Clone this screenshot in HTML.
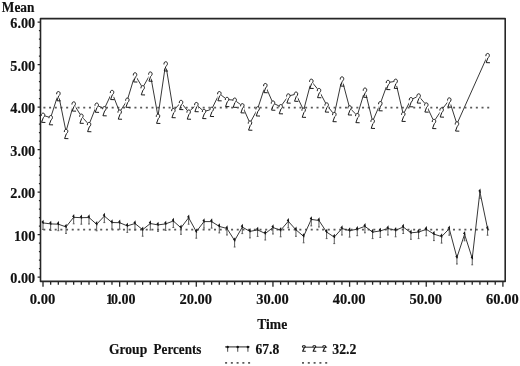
<!DOCTYPE html><html><head><meta charset="utf-8"><style>html,body{margin:0;padding:0;background:#fff;}svg{display:block;filter:grayscale(100%) blur(0.3px);}text{font-family:"Liberation Serif",serif;font-weight:bold;fill:#111;stroke:#111;stroke-width:0.15px;}</style></head><body>
<svg width="520" height="366" viewBox="0 0 520 366">
<rect width="520" height="366" fill="#fff"/>
<defs>
<g id="g2"><rect x="0.1" y="0.3" width="3.8" height="6.6" fill="#fff"/><path d="M0.3,2.4 C0.3,0.6 1.15,0.1 2.05,0.1 C3.1,0.1 3.8,0.8 3.8,2.0 C3.8,3.2 3.1,3.9 2.3,4.6 L0.6,9.3 L4.0,9.4" fill="none" stroke="#1a1a1a" stroke-width="1.0" stroke-linejoin="round" stroke-linecap="round"/></g>
<g id="g1"><path d="M0,0.5 L0,8.4 M-0.9,8.4 L0.9,8.4" fill="none" stroke="#5a5a5a" stroke-width="1.0"/><path d="M-1.1,1.5 L0,0.2 L0.25,2.8" fill="none" stroke="#151515" stroke-width="1.25"/></g>
<path id="g2s" d="M0.3,2.4 C0.3,0.6 1.15,0.1 2.05,0.1 C3.1,0.1 3.8,0.8 3.8,2.0 C3.8,3.2 3.1,3.9 2.3,4.6 L0.6,9.3 L4.0,9.4" fill="none" stroke="#1a1a1a" stroke-width="1.5" stroke-linejoin="round" stroke-linecap="round"/>
</defs>
<path d="M40.5,18.6 L505.2,18.6 L505.2,281.4 L40.5,281.4 Z" fill="none" stroke="#262626" stroke-width="1.6" stroke-linejoin="round"/>
<path d="M37.6,277.2 L40.5,277.2 M38.9,268.7 L40.5,268.7 M38.9,260.2 L40.5,260.2 M38.9,251.7 L40.5,251.7 M38.9,243.2 L40.5,243.2 M37.6,234.7 L40.5,234.7 M38.9,226.2 L40.5,226.2 M38.9,217.7 L40.5,217.7 M38.9,209.2 L40.5,209.2 M38.9,200.7 L40.5,200.7 M37.6,192.2 L40.5,192.2 M38.9,183.7 L40.5,183.7 M38.9,175.2 L40.5,175.2 M38.9,166.7 L40.5,166.7 M38.9,158.2 L40.5,158.2 M37.6,149.7 L40.5,149.7 M38.9,141.2 L40.5,141.2 M38.9,132.7 L40.5,132.7 M38.9,124.2 L40.5,124.2 M38.9,115.7 L40.5,115.7 M37.6,107.2 L40.5,107.2 M38.9,98.7 L40.5,98.7 M38.9,90.2 L40.5,90.2 M38.9,81.7 L40.5,81.7 M38.9,73.2 L40.5,73.2 M37.6,64.7 L40.5,64.7 M38.9,56.2 L40.5,56.2 M38.9,47.7 L40.5,47.7 M38.9,39.2 L40.5,39.2 M38.9,30.7 L40.5,30.7 M37.6,22.2 L40.5,22.2 M43,281.4 L43,286.8 M50.66,281.4 L50.66,284.8 M58.33,281.4 L58.33,284.8 M66,281.4 L66,284.8 M73.66,281.4 L73.66,284.8 M81.33,281.4 L81.33,284.8 M88.99,281.4 L88.99,284.8 M96.66,281.4 L96.66,284.8 M104.32,281.4 L104.32,284.8 M111.98,281.4 L111.98,284.8 M119.65,281.4 L119.65,286.8 M127.31,281.4 L127.31,284.8 M134.98,281.4 L134.98,284.8 M142.64,281.4 L142.64,284.8 M150.31,281.4 L150.31,284.8 M157.97,281.4 L157.97,284.8 M165.64,281.4 L165.64,284.8 M173.31,281.4 L173.31,284.8 M180.97,281.4 L180.97,284.8 M188.63,281.4 L188.63,284.8 M196.3,281.4 L196.3,286.8 M203.97,281.4 L203.97,284.8 M211.63,281.4 L211.63,284.8 M219.29,281.4 L219.29,284.8 M226.96,281.4 L226.96,284.8 M234.62,281.4 L234.62,284.8 M242.29,281.4 L242.29,284.8 M249.96,281.4 L249.96,284.8 M257.62,281.4 L257.62,284.8 M265.28,281.4 L265.28,284.8 M272.95,281.4 L272.95,286.8 M280.62,281.4 L280.62,284.8 M288.28,281.4 L288.28,284.8 M295.94,281.4 L295.94,284.8 M303.61,281.4 L303.61,284.8 M311.27,281.4 L311.27,284.8 M318.94,281.4 L318.94,284.8 M326.61,281.4 L326.61,284.8 M334.27,281.4 L334.27,284.8 M341.94,281.4 L341.94,284.8 M349.6,281.4 L349.6,286.8 M357.26,281.4 L357.26,284.8 M364.93,281.4 L364.93,284.8 M372.6,281.4 L372.6,284.8 M380.26,281.4 L380.26,284.8 M387.93,281.4 L387.93,284.8 M395.59,281.4 L395.59,284.8 M403.25,281.4 L403.25,284.8 M410.92,281.4 L410.92,284.8 M418.58,281.4 L418.58,284.8 M426.25,281.4 L426.25,286.8 M433.92,281.4 L433.92,284.8 M441.58,281.4 L441.58,284.8 M449.25,281.4 L449.25,284.8 M456.91,281.4 L456.91,284.8 M464.57,281.4 L464.57,284.8 M472.24,281.4 L472.24,284.8 M479.91,281.4 L479.91,284.8 M487.57,281.4 L487.57,284.8 M495.24,281.4 L495.24,284.8 M502.9,281.4 L502.9,286.8" stroke="#262626" stroke-width="1.3" fill="none"/>
<text x="35.2" y="283.3" font-size="14" text-anchor="end" textLength="24.9" lengthAdjust="spacingAndGlyphs">0.00</text>
<text x="35.2" y="240.8" font-size="14" text-anchor="end" textLength="21.2" lengthAdjust="spacingAndGlyphs">100</text>
<text x="35.2" y="198.3" font-size="14" text-anchor="end" textLength="24.9" lengthAdjust="spacingAndGlyphs">2.00</text>
<text x="35.2" y="155.8" font-size="14" text-anchor="end" textLength="24.9" lengthAdjust="spacingAndGlyphs">3.00</text>
<text x="35.2" y="113.3" font-size="14" text-anchor="end" textLength="24.9" lengthAdjust="spacingAndGlyphs">4.00</text>
<text x="35.2" y="70.8" font-size="14" text-anchor="end" textLength="24.9" lengthAdjust="spacingAndGlyphs">5.00</text>
<text x="35.2" y="28.3" font-size="14" text-anchor="end" textLength="24.9" lengthAdjust="spacingAndGlyphs">6.00</text>
<text x="42.5" y="303.8" font-size="14" text-anchor="middle" textLength="25.6" lengthAdjust="spacingAndGlyphs">0.00</text>
<text x="120.75" y="303.8" font-size="14" text-anchor="middle">1<tspan dx="-2.2">0.00</tspan></text>
<text x="195.8" y="303.8" font-size="14" text-anchor="middle" textLength="32.6" lengthAdjust="spacingAndGlyphs">20.00</text>
<text x="272.45" y="303.8" font-size="14" text-anchor="middle" textLength="32.6" lengthAdjust="spacingAndGlyphs">30.00</text>
<text x="349.1" y="303.8" font-size="14" text-anchor="middle" textLength="32.6" lengthAdjust="spacingAndGlyphs">40.00</text>
<text x="425.75" y="303.8" font-size="14" text-anchor="middle" textLength="32.6" lengthAdjust="spacingAndGlyphs">50.00</text>
<text x="502.4" y="303.8" font-size="14" text-anchor="middle" textLength="32.6" lengthAdjust="spacingAndGlyphs">60.00</text>
<text x="1.8" y="11.9" font-size="13.8" textLength="32.6" lengthAdjust="spacingAndGlyphs">Mean</text>
<text x="257.2" y="328.6" font-size="14" textLength="30" lengthAdjust="spacingAndGlyphs">Time</text>
<line x1="43.4" y1="107.6" x2="489.5" y2="107.6" stroke="#5a5a5a" stroke-width="1.7" stroke-dasharray="2 3.69"/>
<line x1="43.3" y1="229.6" x2="489.5" y2="229.6" stroke="#5a5a5a" stroke-width="1.7" stroke-dasharray="2 3.69"/>
<polyline points="43,115.3 50.66,117.7 58.33,93.7 66,131.5 73.66,104 81.33,116.2 88.99,124.6 96.66,105.2 104.32,108.7 111.98,92.5 119.65,112.1 127.31,100.2 134.98,74.9 142.64,87.8 150.31,74.1 157.97,116.3 165.64,63.9 173.31,110.6 180.97,102.5 188.63,112.1 196.3,104.6 203.97,111.5 211.63,109.4 219.29,93.7 226.96,99.5 234.62,100.2 242.29,105.8 249.96,123.1 257.62,108.9 265.28,85.6 272.95,103.1 280.62,106.7 288.28,96 295.94,94.2 303.61,110.2 311.27,81.3 318.94,90.6 326.61,105 334.27,114.6 341.94,79 349.6,107.9 357.26,115.6 364.93,90.2 372.6,121.3 380.26,103.7 387.93,82.5 395.59,81.3 403.25,114.3 410.92,99.7 418.58,96 426.25,105 433.92,121.5 441.58,110 449.25,100 456.91,124 487.57,55.6" fill="none" stroke="#383838" stroke-width="1.0" stroke-linejoin="miter"/>
<polyline points="43,222.9 50.66,223.9 58.33,224.2 66,226.9 73.66,217.3 81.33,217.7 88.99,217.5 96.66,224.3 104.32,216.1 111.98,222.5 119.65,222.7 127.31,225.9 134.98,223.5 142.64,229.7 150.31,223.5 157.97,224.9 165.64,223.9 173.31,221 180.97,227.8 188.63,217.7 196.3,231.7 203.97,221.6 211.63,221.6 219.29,226.4 226.96,228.5 234.62,240.5 242.29,227.1 249.96,231.4 257.62,229.9 265.28,233.5 272.95,227.5 280.62,230.3 288.28,221.3 295.94,229.8 303.61,236.3 311.27,219.4 318.94,220.5 326.61,232.1 334.27,237.1 341.94,228.5 349.6,230.6 357.26,229.2 364.93,226.3 372.6,232.1 380.26,230.9 387.93,228.5 395.59,230.3 403.25,227 410.92,232.8 418.58,232.1 426.25,229.3 433.92,234.1 441.58,236.6 449.25,228.7 456.91,257.5 464.57,234.3 472.24,258.3 479.91,191.8 487.57,228.7" fill="none" stroke="#383838" stroke-width="1.0" stroke-linejoin="miter"/>
<use href="#g2" x="41" y="113.05"/>
<use href="#g2" x="48.66" y="115.45"/>
<use href="#g2" x="56.33" y="91.45"/>
<use href="#g2" x="64" y="129.25"/>
<use href="#g2" x="71.66" y="101.75"/>
<use href="#g2" x="79.33" y="113.95"/>
<use href="#g2" x="86.99" y="122.35"/>
<use href="#g2" x="94.66" y="102.95"/>
<use href="#g2" x="102.32" y="106.45"/>
<use href="#g2" x="109.98" y="90.25"/>
<use href="#g2" x="117.65" y="109.85"/>
<use href="#g2" x="125.31" y="97.95"/>
<use href="#g2" x="132.98" y="72.65"/>
<use href="#g2" x="140.64" y="85.55"/>
<use href="#g2" x="148.31" y="71.85"/>
<use href="#g2" x="155.97" y="114.05"/>
<use href="#g2" x="163.64" y="61.65"/>
<use href="#g2" x="171.31" y="108.35"/>
<use href="#g2" x="178.97" y="100.25"/>
<use href="#g2" x="186.63" y="109.85"/>
<use href="#g2" x="194.3" y="102.35"/>
<use href="#g2" x="201.97" y="109.25"/>
<use href="#g2" x="209.63" y="107.15"/>
<use href="#g2" x="217.29" y="91.45"/>
<use href="#g2" x="224.96" y="97.25"/>
<use href="#g2" x="232.62" y="97.95"/>
<use href="#g2" x="240.29" y="103.55"/>
<use href="#g2" x="247.96" y="120.85"/>
<use href="#g2" x="255.62" y="106.65"/>
<use href="#g2" x="263.28" y="83.35"/>
<use href="#g2" x="270.95" y="100.85"/>
<use href="#g2" x="278.62" y="104.45"/>
<use href="#g2" x="286.28" y="93.75"/>
<use href="#g2" x="293.94" y="91.95"/>
<use href="#g2" x="301.61" y="107.95"/>
<use href="#g2" x="309.27" y="79.05"/>
<use href="#g2" x="316.94" y="88.35"/>
<use href="#g2" x="324.61" y="102.75"/>
<use href="#g2" x="332.27" y="112.35"/>
<use href="#g2" x="339.94" y="76.75"/>
<use href="#g2" x="347.6" y="105.65"/>
<use href="#g2" x="355.26" y="113.35"/>
<use href="#g2" x="362.93" y="87.95"/>
<use href="#g2" x="370.6" y="119.05"/>
<use href="#g2" x="378.26" y="101.45"/>
<use href="#g2" x="385.93" y="80.25"/>
<use href="#g2" x="393.59" y="79.05"/>
<use href="#g2" x="401.25" y="112.05"/>
<use href="#g2" x="408.92" y="97.45"/>
<use href="#g2" x="416.58" y="93.75"/>
<use href="#g2" x="424.25" y="102.75"/>
<use href="#g2" x="431.92" y="119.25"/>
<use href="#g2" x="439.58" y="107.75"/>
<use href="#g2" x="447.25" y="97.75"/>
<use href="#g2" x="454.91" y="121.75"/>
<use href="#g2" x="485.57" y="53.35"/>
<use href="#g1" x="43" y="221"/>
<use href="#g1" x="50.66" y="222"/>
<use href="#g1" x="58.33" y="222.3"/>
<use href="#g1" x="66" y="225"/>
<use href="#g1" x="73.66" y="215.4"/>
<use href="#g1" x="81.33" y="215.8"/>
<use href="#g1" x="88.99" y="215.6"/>
<use href="#g1" x="96.66" y="222.4"/>
<use href="#g1" x="104.32" y="214.2"/>
<use href="#g1" x="111.98" y="220.6"/>
<use href="#g1" x="119.65" y="220.8"/>
<use href="#g1" x="127.31" y="224"/>
<use href="#g1" x="134.98" y="221.6"/>
<use href="#g1" x="142.64" y="227.8"/>
<use href="#g1" x="150.31" y="221.6"/>
<use href="#g1" x="157.97" y="223"/>
<use href="#g1" x="165.64" y="222"/>
<use href="#g1" x="173.31" y="219.1"/>
<use href="#g1" x="180.97" y="225.9"/>
<use href="#g1" x="188.63" y="215.8"/>
<use href="#g1" x="196.3" y="229.8"/>
<use href="#g1" x="203.97" y="219.7"/>
<use href="#g1" x="211.63" y="219.7"/>
<use href="#g1" x="219.29" y="224.5"/>
<use href="#g1" x="226.96" y="226.6"/>
<use href="#g1" x="234.62" y="238.6"/>
<use href="#g1" x="242.29" y="225.2"/>
<use href="#g1" x="249.96" y="229.5"/>
<use href="#g1" x="257.62" y="228"/>
<use href="#g1" x="265.28" y="231.6"/>
<use href="#g1" x="272.95" y="225.6"/>
<use href="#g1" x="280.62" y="228.4"/>
<use href="#g1" x="288.28" y="219.4"/>
<use href="#g1" x="295.94" y="227.9"/>
<use href="#g1" x="303.61" y="234.4"/>
<use href="#g1" x="311.27" y="217.5"/>
<use href="#g1" x="318.94" y="218.6"/>
<use href="#g1" x="326.61" y="230.2"/>
<use href="#g1" x="334.27" y="235.2"/>
<use href="#g1" x="341.94" y="226.6"/>
<use href="#g1" x="349.6" y="228.7"/>
<use href="#g1" x="357.26" y="227.3"/>
<use href="#g1" x="364.93" y="224.4"/>
<use href="#g1" x="372.6" y="230.2"/>
<use href="#g1" x="380.26" y="229"/>
<use href="#g1" x="387.93" y="226.6"/>
<use href="#g1" x="395.59" y="228.4"/>
<use href="#g1" x="403.25" y="225.1"/>
<use href="#g1" x="410.92" y="230.9"/>
<use href="#g1" x="418.58" y="230.2"/>
<use href="#g1" x="426.25" y="227.4"/>
<use href="#g1" x="433.92" y="232.2"/>
<use href="#g1" x="441.58" y="234.7"/>
<use href="#g1" x="449.25" y="226.8"/>
<use href="#g1" x="456.91" y="255.6"/>
<use href="#g1" x="464.57" y="232.4"/>
<use href="#g1" x="472.24" y="256.4"/>
<use href="#g1" x="479.91" y="189.9"/>
<use href="#g1" x="487.57" y="226.8"/>
<text x="109.0" y="353.6" font-size="13.6" textLength="38.2" lengthAdjust="spacingAndGlyphs">Group</text>
<text x="153.6" y="353.6" font-size="13.6" textLength="47.8" lengthAdjust="spacingAndGlyphs">Percents</text>
<line x1="225.0" y1="346.9" x2="249.6" y2="346.9" stroke="#383838" stroke-width="1.1"/>
<path d="M227.6,347.5 L227.6,351.8" stroke="#666" stroke-width="1.2"/>
<circle cx="227.6" cy="346.9" r="1.25" fill="#111"/>
<path d="M237.7,347.5 L237.7,351.8" stroke="#666" stroke-width="1.2"/>
<circle cx="237.7" cy="346.9" r="1.25" fill="#111"/>
<path d="M247.9,347.5 L247.9,351.8" stroke="#666" stroke-width="1.2"/>
<circle cx="247.9" cy="346.9" r="1.25" fill="#111"/>
<text x="255.4" y="354.2" font-size="13.6" textLength="23.8" lengthAdjust="spacingAndGlyphs">67.8</text>
<line x1="225.1" y1="362.9" x2="251" y2="362.9" stroke="#5a5a5a" stroke-width="1.7" stroke-dasharray="2 3.75"/>
<line x1="302.2" y1="347.2" x2="327.1" y2="347.2" stroke="#383838" stroke-width="1.1"/>
<g transform="translate(302.2,345.3) scale(0.8,0.64)"><use href="#g2s"/></g>
<g transform="translate(312.7,345.3) scale(0.8,0.64)"><use href="#g2s"/></g>
<g transform="translate(322.6,345.3) scale(0.8,0.64)"><use href="#g2s"/></g>
<text x="332.3" y="354.2" font-size="13.6" textLength="24.2" lengthAdjust="spacingAndGlyphs">32.2</text>
<line x1="302" y1="362.9" x2="328" y2="362.9" stroke="#5a5a5a" stroke-width="1.7" stroke-dasharray="2 3.8"/>
</svg></body></html>
